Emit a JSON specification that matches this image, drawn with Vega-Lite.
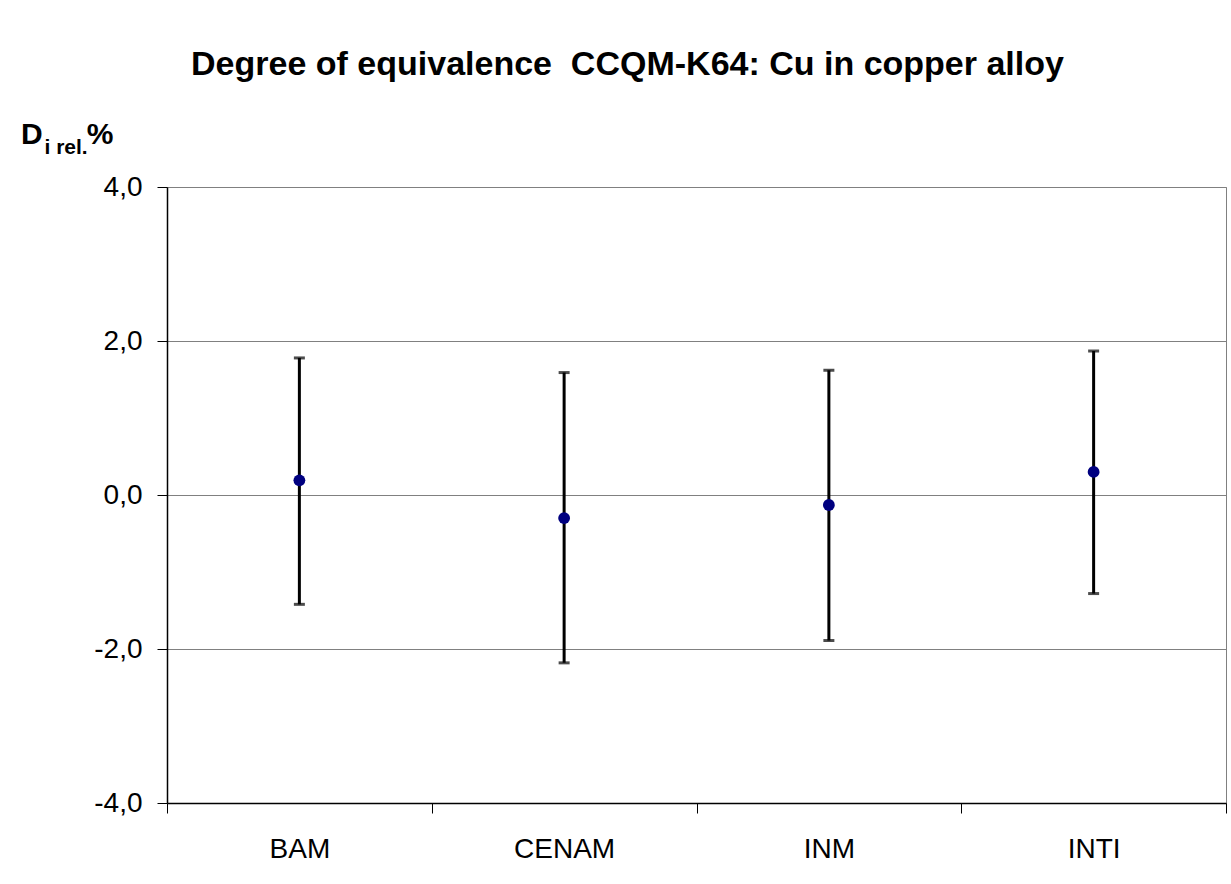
{
  "$schema": "https://vega.github.io/schema/vega-lite/v6.json",
  "width": 1059,
  "height": 616,
  "autosize": {"type": "none"},
  "padding": {"left": 167, "top": 187, "right": 5, "bottom": 81},
  "background": "white",
  "title": {
    "text": "Degree of equivalence\u00a0 CCQM-K64: Cu in copper alloy",
    "font": "Liberation Sans",
    "fontSize": 34,
    "fontWeight": "bold",
    "color": "black",
    "anchor": "middle",
    "frame": "group",
    "dx": -69,
    "offset": 38
  },
  "config": {
    "view": {"stroke": "#808080", "strokeWidth": 1},
    "font": "Liberation Sans"
  },
  "data": {
    "values": [
      {"lab": "BAM", "v": 0.19, "lo": -1.42, "hi": 1.78},
      {"lab": "CENAM", "v": -0.30, "lo": -2.18, "hi": 1.59},
      {"lab": "INM", "v": -0.13, "lo": -1.89, "hi": 1.62},
      {"lab": "INTI", "v": 0.30, "lo": -1.28, "hi": 1.87}
    ]
  },
  "encoding": {
    "x": {
      "field": "lab",
      "type": "nominal",
      "sort": null,
      "scale": {"paddingInner": 0, "paddingOuter": 0},
      "axis": {
        "title": "i rel.",
        "titleFont": "Liberation Sans",
        "titleFontSize": 21,
        "titleFontWeight": "bold",
        "titleColor": "black",
        "titleAngle": 0,
        "titleAlign": "left",
        "titleBaseline": "alphabetic",
        "titleX": -123,
        "titleY": -650,
        "labelAngle": 0,
        "labelFont": "Liberation Sans",
        "labelFontSize": 28,
        "labelColor": "black",
        "labelPadding": 22,
        "tickBand": "extent",
        "tickSize": 10,
        "tickColor": "black",
        "tickWidth": 1,
        "domainColor": "black",
        "domainWidth": 1.5,
        "grid": false
      }
    }
  },
  "layer": [
    {
      "mark": {
        "type": "errorbar",
        "color": "black",
        "thickness": 3,
        "ticks": {"size": 11, "thickness": 3, "color": "black"}
      },
      "encoding": {
        "y": {
          "field": "lo",
          "type": "quantitative",
          "scale": {"domain": [-4, 4], "nice": false, "zero": false},
          "axis": {
            "title": "D\u00a0\u00a0\u00a0\u00a0\u00a0\u200a%",
            "titleFont": "Liberation Sans",
            "titleFontSize": 30,
            "titleFontWeight": "bold",
            "titleColor": "black",
            "titleAngle": 0,
            "titleAlign": "left",
            "titleBaseline": "alphabetic",
            "titleX": -146.5,
            "titleY": -43.5,
            "values": [-4, -2, 0, 2, 4],
            "labelExpr": "(datum.value < 0 ? '-' : '') + replace(format(abs(datum.value), '.1f'), '.', ',')",
            "labelFont": "Liberation Sans",
            "labelFontSize": 28,
            "labelColor": "black",
            "labelPadding": 15,
            "tickSize": 10,
            "tickColor": "black",
            "tickWidth": 1,
            "domainColor": "black",
            "domainWidth": 1.5,
            "grid": true,
            "gridColor": "#808080",
            "gridWidth": 1
          }
        },
        "y2": {"field": "hi"}
      }
    },
    {
      "mark": {"type": "point", "filled": true, "color": "#000080", "opacity": 1, "size": 140},
      "encoding": {
        "y": {"field": "v", "type": "quantitative"}
      }
    }
  ]
}
